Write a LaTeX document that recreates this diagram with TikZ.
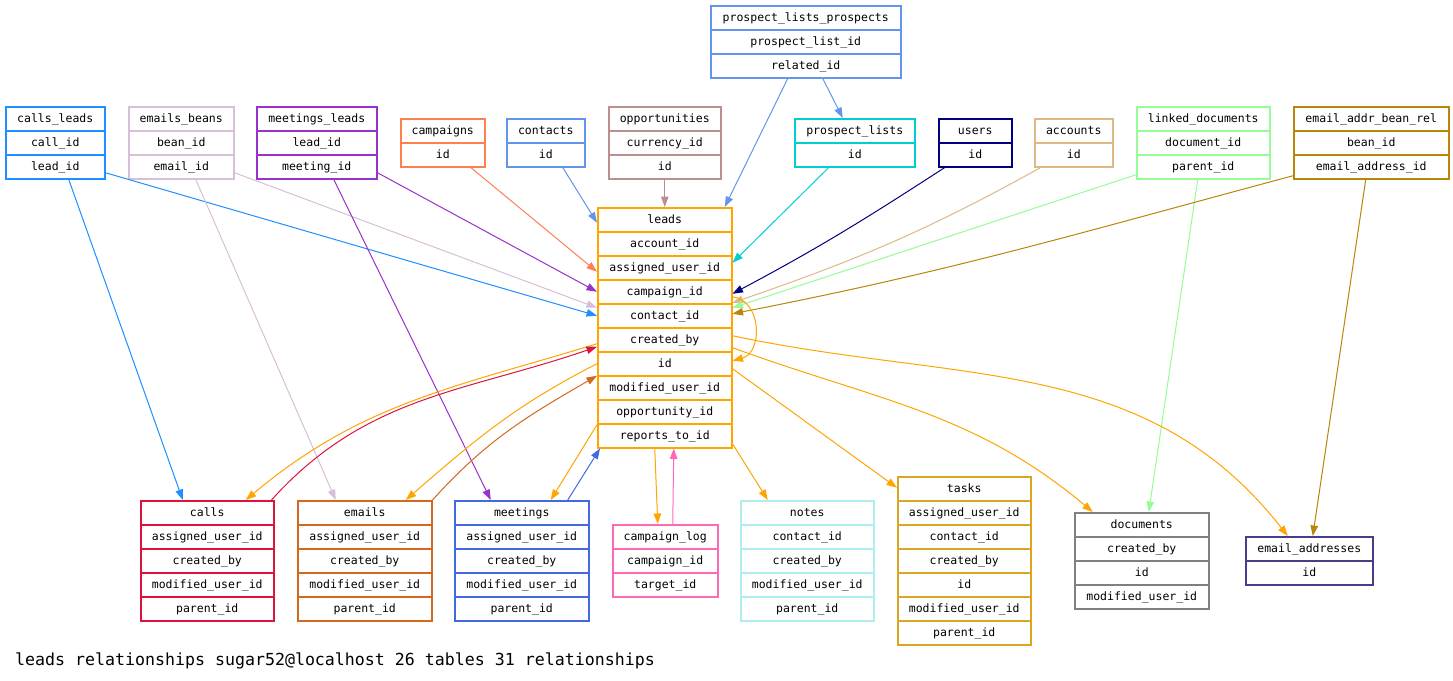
\documentclass[tikz,border=0pt]{standalone}
\usepackage{fontspec}
\usetikzlibrary{arrows.meta,calc}
\newfontfamily\dbmono{DejaVu Sans Mono}
\definecolor{cDodger}{HTML}{1E90FF}
\definecolor{cThistle}{HTML}{D8BFD8}
\definecolor{cOrchid}{HTML}{9932CC}
\definecolor{cCoral}{HTML}{FF7F50}
\definecolor{cCorn}{HTML}{6495ED}
\definecolor{cRosy}{HTML}{BC8F8F}
\definecolor{cTurq}{HTML}{00CED1}
\definecolor{cNavy}{HTML}{000080}
\definecolor{cBurly}{HTML}{DEB887}
\definecolor{cPaleGreen}{HTML}{98FB98}
\definecolor{cDarkGold}{HTML}{B8860B}
\definecolor{cOrange}{HTML}{FFA500}
\definecolor{cCrimson}{HTML}{DC143C}
\definecolor{cChoc}{HTML}{D2691E}
\definecolor{cRoyal}{HTML}{4169E1}
\definecolor{cHotPink}{HTML}{FF69B4}
\definecolor{cPaleTurq}{HTML}{AFEEEE}
\definecolor{cGoldenrod}{HTML}{DAA520}
\definecolor{cGrayBox}{HTML}{808080}
\definecolor{cSlate}{HTML}{483D8B}
\tikzset{
  cell/.style={draw, fill=white, line width=1.5pt, inner sep=0pt, minimum height=24pt,
    text height=10pt, text depth=2pt, font=\dbmono\fontsize{11.5}{12}\selectfont},
  rel/.style={-{Triangle[length=10.5pt,width=7.5pt]}, line width=1pt},
  capt/.style={font=\dbmono\fontsize{16.6}{18}\selectfont, inner sep=0pt}
}
% #1 name, #2 left x, #3 width, #4 top y, #5 colour, #6 rows
\newcommand\dbtable[6]{%
  \foreach \r [count=\i from 0] in {#6} {%
    \node[cell, draw=#5, minimum width=#3pt, anchor=north west] (#1-\i) at (#2, {#4+24*\i}) {\r};
  }%
}
\begin{document}
\begin{tikzpicture}[x=1pt,y=-1pt]
\useasboundingbox[fill=white] (0,0) rectangle (1453,680);

\dbtable{callsleads}{5}{99}{106}{cDodger}{calls\_leads,call\_id,lead\_id}
\dbtable{emailsbeans}{128}{105}{106}{cThistle}{emails\_beans,bean\_id,email\_id}
\dbtable{meetingsleads}{256}{120}{106}{cOrchid}{meetings\_leads,lead\_id,meeting\_id}
\dbtable{campaigns}{400}{84}{118}{cCoral}{campaigns,id}
\dbtable{contacts}{506}{78}{118}{cCorn}{contacts,id}
\dbtable{opportunities}{608}{112}{106}{cRosy}{opportunities,currency\_id,id}
\dbtable{plp}{710}{190}{5}{cCorn}{prospect\_lists\_prospects,prospect\_list\_id,related\_id}
\dbtable{prospectlists}{794}{120}{118}{cTurq}{prospect\_lists,id}
\dbtable{users}{938}{73}{118}{cNavy}{users,id}
\dbtable{accounts}{1034}{78}{118}{cBurly}{accounts,id}
\dbtable{linkeddocs}{1136}{133}{106}{cPaleGreen}{linked\_documents,document\_id,parent\_id}
\dbtable{eabr}{1293}{155}{106}{cDarkGold}{email\_addr\_bean\_rel,bean\_id,email\_address\_id}
\dbtable{leads}{597}{134}{207}{cOrange}{leads,account\_id,assigned\_user\_id,campaign\_id,contact\_id,created\_by,id,modified\_user\_id,opportunity\_id,reports\_to\_id}
\dbtable{calls}{140}{133}{500}{cCrimson}{calls,assigned\_user\_id,created\_by,modified\_user\_id,parent\_id}
\dbtable{emails}{297}{134}{500}{cChoc}{emails,assigned\_user\_id,created\_by,modified\_user\_id,parent\_id}
\dbtable{meetings}{454}{134}{500}{cRoyal}{meetings,assigned\_user\_id,created\_by,modified\_user\_id,parent\_id}
\dbtable{campaignlog}{612}{105}{524}{cHotPink}{campaign\_log,campaign\_id,target\_id}
\dbtable{notes}{740}{133}{500}{cPaleTurq}{notes,contact\_id,created\_by,modified\_user\_id,parent\_id}
\dbtable{tasks}{897}{133}{476}{cGoldenrod}{tasks,assigned\_user\_id,contact\_id,created\_by,id,modified\_user\_id,parent\_id}
\dbtable{documents}{1074}{134}{512}{cGrayBox}{documents,created\_by,id,modified\_user\_id}
\dbtable{emailaddresses}{1245}{127}{536}{cSlate}{email\_addresses,id}

% upper relationships
\draw[rel,cDodger] ([xshift=13.5pt]callsleads-2.south) -- ([xshift=-24.5pt]calls-0.north);
\draw[rel,cDodger] ([yshift=-6pt]callsleads-2.east) -- (leads-4.west);
\draw[rel,cThistle] ([yshift=-6pt]emailsbeans-2.east) -- ([yshift=8pt]leads-4.west);
\draw[rel,cThistle] ([xshift=14.5pt]emailsbeans-2.south) -- ([xshift=-29pt]emails-0.north);
\draw[rel,cOrchid] ([yshift=-6pt]meetingsleads-2.east) -- (leads-3.west);
\draw[rel,cOrchid] ([xshift=17pt]meetingsleads-2.south) -- ([xshift=-31pt]meetings-0.north);
\draw[rel,cCoral] ([xshift=28pt]campaigns-1.south) -- ([yshift=-4pt]leads-2.west);
\draw[rel,cCorn] ([xshift=17pt]contacts-1.south) -- ([yshift=-3pt]leads-0.west);
\draw[rel,cRosy] (opportunities-2.south) -- (leads-0.north);
\draw[rel,cCorn] ([xshift=-18pt]plp-2.south) -- ([xshift=60pt]leads-0.north);
\draw[rel,cCorn] ([xshift=17pt]plp-2.south) -- ([xshift=-12pt]prospectlists-0.north);
\draw[rel,cTurq] ([xshift=-26pt]prospectlists-1.south) -- ([yshift=5pt]leads-2.east);
\draw[rel,cNavy] ([xshift=-30.5pt]users-1.south) to[out=213,in=28] ([yshift=-2pt]leads-3.east);
\draw[rel,cBurly] ([xshift=-33pt]accounts-1.south) to[out=209,in=19] ([yshift=13pt]leads-4.east);
\draw[rel,cPaleGreen] ([yshift=-8pt]linkeddocs-2.west) -- ([yshift=8pt]leads-4.east);
\draw[rel,cPaleGreen] ([xshift=-5.5pt]linkeddocs-2.south) -- ([xshift=7pt]documents-0.north);
\draw[rel,cDarkGold] ([yshift=-9pt]eabr-2.west) to[out=195,in=11] ([yshift=2pt]leads-4.east);
\draw[rel,cDarkGold] ([xshift=-5.5pt]eabr-2.south) -- ([xshift=3.5pt]emailaddresses-0.north);

% self relationship
\draw[rel,cOrange] ([yshift=-5pt]leads-3.east) .. controls +(30,4) and +(30,-8) .. ([yshift=3pt]leads-6.east);

% lower relationships
\draw[rel,cOrange] ([yshift=-4pt]leads-5.west) to[out=197,in=40] ([xshift=38.5pt]calls-0.north);
\draw[rel,cCrimson] ([xshift=-3pt]calls-0.north east) to[out=48,in=199] ([yshift=-7pt]leads-5.west);
\draw[rel,cOrange] (leads-6.west) to[out=207,in=41] ([xshift=41pt]emails-0.north);
\draw[rel,cChoc] (emails-0.north east) to[out=48,in=210] ([yshift=12pt]leads-7.west);
\draw[rel,cOrange] ([yshift=11pt]leads-9.west) -- ([xshift=29pt]meetings-0.north);
\draw[rel,cRoyal] ([xshift=46pt]meetings-0.north) -- ([xshift=3pt]leads-9.south west);
\draw[rel,cOrange] ([xshift=-10pt]leads-9.south) -- ([xshift=-7.5pt]campaignlog-0.north);
\draw[rel,cHotPink] ([xshift=7.5pt]campaignlog-0.north) -- ([xshift=9pt]leads-9.south);
\draw[rel,cOrange] ([yshift=-8pt]leads-9.east) -- ([xshift=-39.5pt]notes-0.north);
\draw[rel,cOrange] ([yshift=-5pt]leads-6.east) -- ([yshift=1pt]tasks-0.west);
\draw[rel,cOrange] ([yshift=-8pt]leads-5.east) to[out=-20,in=140] ([xshift=-49pt]documents-0.north);
\draw[rel,cOrange] ([yshift=4pt]leads-5.east) to[out=-12,in=128] ([xshift=-21.5pt]emailaddresses-0.north);

\node[capt, anchor=base west] (caption) at (15,665) {leads relationships sugar52@localhost 26 tables 31 relationships};
\end{tikzpicture}
\end{document}
